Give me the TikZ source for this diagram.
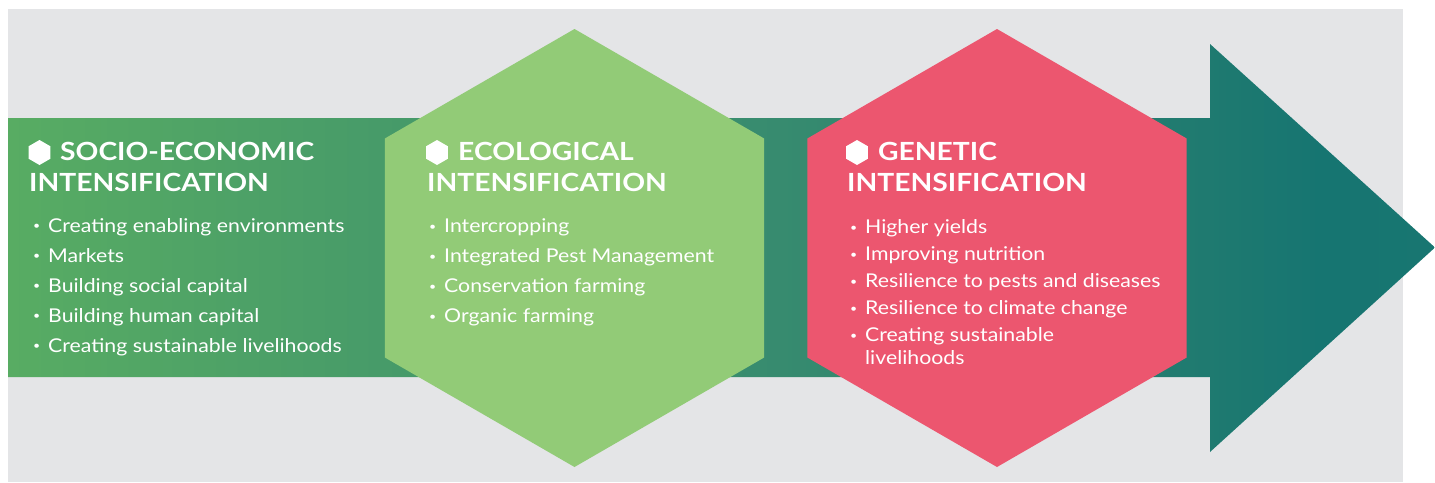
\documentclass[tikz,border=0pt]{standalone}
\usepackage{fontspec}
\setmainfont{Lato}[FakeStretch=1.12]
\newfontfamily\headfont{Lato}[FakeStretch=1.13]
\usetikzlibrary{shapes.geometric}

\definecolor{bggray}{HTML}{E4E5E7}
\definecolor{ecogreen}{HTML}{92CB77}
\definecolor{genred}{HTML}{EC566F}
\definecolor{arrowA}{HTML}{58AC63}
\definecolor{arrowB}{HTML}{479B69}
\definecolor{arrowC}{HTML}{378B6F}
\definecolor{arrowD}{HTML}{1F7A70}
\definecolor{arrowE}{HTML}{167571}
\definecolor{arrowF}{HTML}{187671}

\pgfdeclarehorizontalshading{arrowshade}{100bp}{color(0bp)=(arrowA); color(25bp)=(arrowA); color(38bp)=(arrowB); color(52bp)=(arrowC); color(67bp)=(arrowD); color(71bp)=(arrowE); color(75bp)=(arrowF); color(100bp)=(arrowF)}

\newcommand{\itembullet}{\makebox[15pt][l]{\raisebox{2.5pt}{\fontsize{11}{11}\selectfont\textbullet}}}

\tikzset{
  hexa/.style={regular polygon, regular polygon sides=6, rotate=30, minimum size=438pt, inner sep=0pt, outer sep=0pt},
  hexicon/.style={regular polygon, regular polygon sides=6, rotate=30, minimum size=25pt, inner sep=0pt, fill=white},
  heading/.style={anchor=base west, align=left, inner sep=0pt, text=white, font=\headfont\bfseries\fontsize{25}{31}\selectfont},
  items/.style={anchor=base west, align=left, inner sep=0pt, text=white, font=\fontsize{19}{30}\selectfont},
}

\begin{document}
\begin{tikzpicture}[x=1pt,y=-1pt]

	\useasboundingbox (0,0) rectangle (1435,482);
	\fill[bggray] (8,9) rectangle (1403,482);

	% big arrow
	\shade[shading=arrowshade] (8,118) -- (1210,118) -- (1210,44) -- (1435,247.5)
		-- (1210,452) -- (1210,377) -- (8,377) -- cycle;

	% hexagons
	\node[hexa, fill=ecogreen] (ecohex) at (574.5,248) {};
	\node[hexa, fill=genred]   (genhex) at (997,248)   {};

	\node[hexicon] (socioicon) at (39.5,152.5) {};
	\node[hexicon] (ecoicon)   at (437,152.5)  {};
	\node[hexicon] (genicon)   at (857,152.5)  {};

	% headings (base = last line)
	\node[heading] (sociohead) at (29,191.5)  {\hspace*{31pt}SOCIO-ECONOMIC\\INTENSIFICATION};
	\node[heading] (ecohead)   at (427,191.5) {\hspace*{31pt}ECOLOGICAL\\INTENSIFICATION};
	\node[heading] (genhead)   at (847,191.5) {\hspace*{31pt}GENETIC\\INTENSIFICATION};

	% lists
	\node[items] (sociolist) at (33,352) {\itembullet Creating enabling environments\\
		\itembullet Markets\\
		\itembullet Building social capital\\
		\itembullet Building human capital\\
		\itembullet Creating sustainable livelihoods};
	\node[items] (ecolist) at (429,322.7) {\itembullet Intercropping\\
		\itembullet Integrated Pest Management\\
		\itembullet Conservation farming\\
		\itembullet Organic farming};
	\node[items, font=\fontsize{19}{27}\selectfont] (genlist) at (850,364.3) {\itembullet Higher yields\\
		\itembullet Improving nutrition\\
		\itembullet Resilience to pests and diseases\\
		\itembullet Resilience to climate change\\
		\itembullet Creating sustainable\\[-4.4pt]
		\hspace*{15pt}livelihoods};

\end{tikzpicture}
\end{document}
